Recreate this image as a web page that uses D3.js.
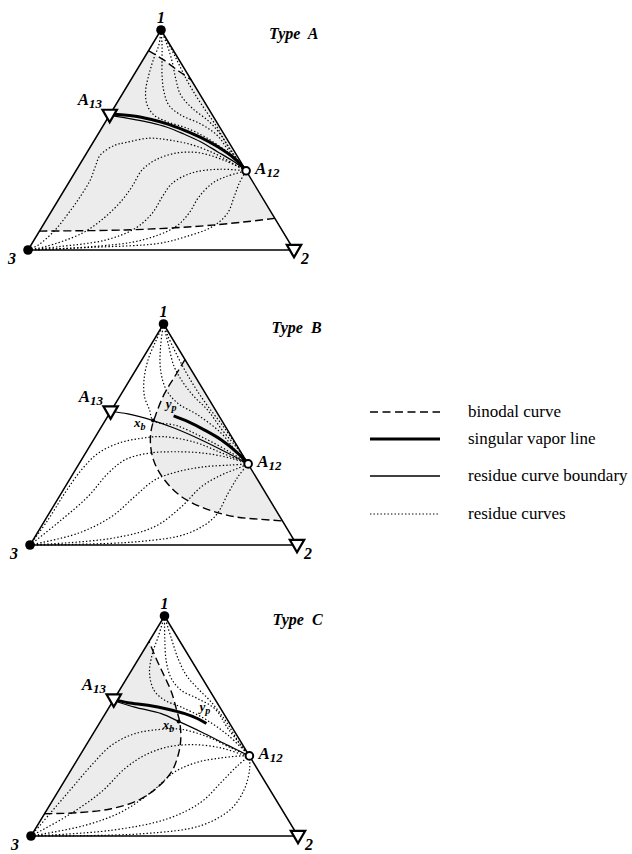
<!DOCTYPE html>
<html>
<head>
<meta charset="utf-8">
<script src="https://cdnjs.cloudflare.com/ajax/libs/d3/7.8.5/d3.min.js"></script>
<style>
  body { margin: 0; background: #fff; }
  svg { display: block; }
</style>
</head>
<body>
<svg width="632" height="854"></svg>
<script>
// points are [fraction along the 3-2 base, fraction of height towards 1]
var vertexLabels = ["1", "2", "3"];
var typeNames = ["A", "B", "C"];
var legendLabels = ["binodal curve", "singular vapor line", "residue curve boundary", "residue curves"];

// ---- Type A
var aA13 = [0.307, 0.614];
var aA12 = [0.82, 0.36];
var aBinodalTop = [[0.453,0.906],[0.51,0.864],[0.57,0.81],[0.614,0.773]];
var aBinodalBottom = [[0.043,0.086],[0.366,0.091],[0.618,0.106],[0.81,0.127],[0.928,0.144]];
var aVapor = [[0.309,0.618],[0.397,0.609],[0.46,0.594],[0.523,0.573],[0.586,0.545],[0.649,0.512],[0.712,0.47],[0.775,0.417],[0.82,0.36]];
var aBoundary = [[0.309,0.612],[0.397,0.594],[0.46,0.579],[0.523,0.558],[0.586,0.527],[0.649,0.492],[0.712,0.447],[0.775,0.401],[0.82,0.36]];
var aResidue = [
  [[0.5,1],[0.492,0.932],[0.473,0.871],[0.454,0.795],[0.442,0.72],[0.448,0.659],[0.473,0.614],[0.523,0.583],[0.599,0.553],[0.674,0.508],[0.748,0.447],[0.80,0.394],[0.82,0.36]],
  [[0.5,1],[0.504,0.932],[0.504,0.871],[0.504,0.795],[0.511,0.72],[0.529,0.659],[0.574,0.614],[0.649,0.573],[0.71,0.523],[0.757,0.447],[0.82,0.36]],
  [[0.5,1],[0.523,0.932],[0.542,0.856],[0.555,0.78],[0.574,0.705],[0.618,0.644],[0.68,0.585],[0.725,0.523],[0.764,0.447],[0.82,0.36]],
  [[0.5,1],[0.536,0.92],[0.567,0.845],[0.598,0.77],[0.632,0.7],[0.67,0.63],[0.71,0.56],[0.738,0.5],[0.771,0.44],[0.82,0.36]],
  [[0,0],[0.039,0.023],[0.102,0.091],[0.152,0.167],[0.196,0.242],[0.234,0.318],[0.253,0.379],[0.272,0.432],[0.328,0.477],[0.366,0.488],[0.454,0.508],[0.529,0.5],[0.617,0.478],[0.706,0.436],[0.778,0.388],[0.82,0.36]],
  [[0,0],[0.064,0.015],[0.203,0.076],[0.291,0.151],[0.354,0.227],[0.391,0.288],[0.429,0.364],[0.479,0.409],[0.555,0.44],[0.643,0.442],[0.743,0.405],[0.82,0.36]],
  [[0,0],[0.114,0.015],[0.291,0.045],[0.404,0.099],[0.467,0.167],[0.505,0.242],[0.542,0.303],[0.618,0.351],[0.718,0.367],[0.82,0.36]],
  [[0,0],[0.24,0.015],[0.429,0.045],[0.555,0.106],[0.605,0.167],[0.643,0.242],[0.693,0.303],[0.743,0.333],[0.82,0.36]],
  [[0,0],[0.24,0.012],[0.492,0.03],[0.592,0.06],[0.693,0.106],[0.75,0.167],[0.775,0.242],[0.794,0.303],[0.82,0.36]]
];

// ---- Type B
var bA13 = [0.302, 0.604];
var bA12 = [0.817, 0.367];
var bXb = [0.461, 0.563];
var bBinodal = [[0.581,0.84],[0.542,0.762],[0.504,0.686],[0.473,0.596],[0.454,0.52],[0.452,0.445],[0.467,0.37],[0.504,0.294],[0.567,0.219],[0.654,0.166],[0.767,0.128],[0.866,0.116],[0.946,0.109]];
var bBoundary = [[0.302,0.604],[0.367,0.593],[0.461,0.563],[0.542,0.528],[0.642,0.475],[0.742,0.415],[0.817,0.367]];
var bVapor = [[0.538,0.584],[0.592,0.558],[0.654,0.52],[0.717,0.475],[0.779,0.415],[0.817,0.367]];
var bResidue = [
  [[0.5,1],[0.473,0.928],[0.442,0.837],[0.427,0.747],[0.429,0.671],[0.448,0.611],[0.461,0.563],[0.55,0.54],[0.65,0.485],[0.75,0.42],[0.817,0.367]],
  [[0.5,1],[0.489,0.897],[0.489,0.792],[0.511,0.701],[0.554,0.641],[0.629,0.588],[0.717,0.505],[0.768,0.43],[0.817,0.367]],
  [[0.5,1],[0.517,0.913],[0.54,0.807],[0.575,0.732],[0.615,0.671],[0.665,0.611],[0.72,0.52],[0.776,0.438],[0.817,0.367]],
  [[0.5,1],[0.515,0.95],[0.55,0.86],[0.585,0.78],[0.625,0.7],[0.668,0.625],[0.728,0.53],[0.784,0.43],[0.817,0.367]],
  [[0,0],[0.067,0.113],[0.13,0.234],[0.192,0.339],[0.255,0.415],[0.33,0.46],[0.417,0.483],[0.5,0.49],[0.617,0.465],[0.717,0.417],[0.792,0.38],[0.817,0.367]],
  [[0,0],[0.117,0.113],[0.217,0.219],[0.292,0.324],[0.355,0.385],[0.442,0.415],[0.542,0.422],[0.654,0.415],[0.754,0.392],[0.817,0.367]],
  [[0,0],[0.18,0.053],[0.305,0.128],[0.392,0.219],[0.467,0.294],[0.554,0.332],[0.654,0.354],[0.754,0.362],[0.817,0.367]],
  [[0,0],[0.305,0.03],[0.467,0.083],[0.567,0.173],[0.642,0.264],[0.717,0.317],[0.779,0.347],[0.817,0.367]],
  [[0,0],[0.404,0.015],[0.592,0.053],[0.692,0.128],[0.742,0.234],[0.779,0.309],[0.817,0.367]]
];

// ---- Type C
var cA13 = [0.31, 0.62];
var cA12 = [0.818, 0.364];
var cXb = [0.553, 0.521];
var cBinodal = [[0.05,0.101],[0.176,0.106],[0.301,0.124],[0.401,0.162],[0.476,0.223],[0.526,0.291],[0.551,0.367],[0.561,0.442],[0.557,0.518],[0.544,0.579],[0.526,0.655],[0.501,0.723],[0.469,0.806],[0.442,0.885]];
var cBoundary = [[0.31,0.615],[0.388,0.586],[0.488,0.556],[0.553,0.521],[0.638,0.473],[0.738,0.412],[0.818,0.364]];
var cVapor = [[0.31,0.62],[0.363,0.606],[0.438,0.594],[0.513,0.576],[0.576,0.556],[0.625,0.533],[0.657,0.511]];
var cResidue = [
  [[0.5,1],[0.478,0.912],[0.453,0.821],[0.444,0.738],[0.461,0.662],[0.501,0.617],[0.563,0.586],[0.65,0.533],[0.738,0.458],[0.818,0.364]],
  [[0.5,1],[0.501,0.897],[0.507,0.791],[0.526,0.715],[0.563,0.662],[0.625,0.624],[0.688,0.579],[0.74,0.485],[0.818,0.364]],
  [[0.5,1],[0.526,0.897],[0.551,0.806],[0.582,0.73],[0.625,0.67],[0.675,0.609],[0.732,0.518],[0.778,0.427],[0.818,0.364]],
  [[0,0],[0.076,0.109],[0.151,0.215],[0.226,0.321],[0.301,0.412],[0.388,0.465],[0.488,0.485],[0.563,0.485],[0.663,0.45],[0.75,0.4],[0.818,0.364]],
  [[0,0],[0.139,0.094],[0.263,0.2],[0.351,0.306],[0.426,0.367],[0.513,0.405],[0.613,0.415],[0.713,0.4],[0.788,0.372],[0.818,0.364]],
  [[0,0],[0.201,0.048],[0.338,0.109],[0.451,0.2],[0.538,0.291],[0.625,0.336],[0.713,0.355],[0.788,0.364],[0.818,0.364]],
  [[0,0],[0.301,0.026],[0.513,0.079],[0.638,0.155],[0.713,0.245],[0.775,0.321],[0.818,0.364]],
  [[0,0],[0.426,0.011],[0.638,0.048],[0.75,0.124],[0.8,0.215],[0.819,0.306],[0.818,0.364]]
];

var corners = [[0.5, 1], [1, 0], [0, 0]]; // vertex 1, 2, 3

// where each triangle sits on the page
var boxes = [
  {x0: 28, x1: 294, yb: 250, yt: 30},
  {x0: 30, x1: 297, yb: 545, yt: 324},
  {x0: 31, x1: 298, yb: 836, yt: 616}
];

var panels = [
  {name: typeNames[0], box: boxes[0], shade: [aBinodalTop, aBinodalBottom.slice().reverse()],
   binodal: [aBinodalTop, aBinodalBottom], boundary: aBoundary, vapor: aVapor, residue: aResidue,
   a13: aA13, a12: aA12},
  {name: typeNames[1], box: boxes[1], shade: [bBinodal], binodal: [bBinodal], boundary: bBoundary,
   vapor: bVapor, residue: bResidue, a13: bA13, a12: bA12, xb: bXb,
   ypAt: bVapor[0], ypOff: [-8, -8], xbOff: [-19, 6]},
  {name: typeNames[2], box: boxes[2], shade: [cBinodal], binodal: [cBinodal], boundary: cBoundary,
   vapor: cVapor, residue: cResidue, a13: cA13, a12: cA12, xb: cXb,
   ypAt: cVapor[cVapor.length - 1], ypOff: [-7, -13], xbOff: [-16, 8]}
];

var svg = d3.select("svg");
var serif = "'Liberation Serif', 'Times New Roman', serif";

function label(g, x, y, main, sub, size, subSize) {
    var t = g.append("text")
        .attr("x", x)
        .attr("y", y)
        .attr("font-family", serif)
        .attr("font-weight", "bold")
        .attr("font-style", "italic")
        .attr("font-size", size)
        .attr("fill", "#000");
    t.append("tspan").text(main);
    if (sub) {
        t.append("tspan").attr("font-size", subSize).attr("dy", 3).text(sub);
    }
    return t;
}

function drawPanel(p) {
    var x = d3.scaleLinear().domain([0, 1]).range([p.box.x0, p.box.x1]);
    var y = d3.scaleLinear().domain([0, 1]).range([p.box.yb, p.box.yt]);
    var g = svg.append("g").attr("class", "panel");

    var curve = d3.line()
        .x(function(d) { return x(d[0]); })
        .y(function(d) { return y(d[1]); })
        .curve(d3.curveCatmullRom.alpha(0.5));

    // two-liquid region
    var shadePath = p.shade.map(function(part, i) {
        var s = curve(part);
        return i == 0 ? s : s.replace(/^M/, "L");
    }).join("") + "Z";
    g.append("path")
        .attr("d", shadePath)
        .attr("fill", "#ececec")
        .attr("stroke", "none");

    g.selectAll(".residue")
        .data(p.residue)
        .enter()
        .append("path")
        .attr("class", "residue")
        .attr("d", curve)
        .attr("fill", "none")
        .attr("stroke", "#000")
        .attr("stroke-width", 1.2)
        .attr("stroke-dasharray", "1.4,2.1");

    g.selectAll(".binodal")
        .data(p.binodal)
        .enter()
        .append("path")
        .attr("class", "binodal")
        .attr("d", curve)
        .attr("fill", "none")
        .attr("stroke", "#000")
        .attr("stroke-width", 1.4)
        .attr("stroke-dasharray", "8,4");

    g.append("path")
        .attr("d", curve(p.boundary))
        .attr("fill", "none")
        .attr("stroke", "#000")
        .attr("stroke-width", 1.2);

    g.append("path")
        .attr("d", curve(p.vapor))
        .attr("fill", "none")
        .attr("stroke", "#000")
        .attr("stroke-width", 3)
        .attr("stroke-linecap", "butt");

    // triangle frame
    g.append("path")
        .attr("d", d3.line().x(function(d) { return x(d[0]); }).y(function(d) { return y(d[1]); })
            .curve(d3.curveLinearClosed)(corners))
        .attr("fill", "none")
        .attr("stroke", "#000")
        .attr("stroke-width", 1.5);

    // pure components / azeotropes
    [corners[0], corners[2]].forEach(function(c) {
        g.append("circle").attr("cx", x(c[0])).attr("cy", y(c[1])).attr("r", 4.8).attr("fill", "#000");
    });
    var tri = d3.symbol().type(d3.symbolTriangle).size(90);
    [corners[1], p.a13].forEach(function(c) {
        g.append("path")
            .attr("d", tri())
            .attr("transform", "translate(" + x(c[0]) + "," + (y(c[1]) - 1) + ") rotate(180)")
            .attr("fill", "#fff")
            .attr("stroke", "#000")
            .attr("stroke-width", 2.2);
    });
    g.append("circle")
        .attr("cx", x(p.a12[0])).attr("cy", y(p.a12[1])).attr("r", 3.8)
        .attr("fill", "#fff").attr("stroke", "#000").attr("stroke-width", 2);

    if (p.xb) {
        g.append("circle").attr("cx", x(p.xb[0])).attr("cy", y(p.xb[1])).attr("r", 2).attr("fill", "#000");
        label(g, x(p.xb[0]) + p.xbOff[0], y(p.xb[1]) + p.xbOff[1], "x", "b", 13, 10);
        label(g, x(p.ypAt[0]) + p.ypOff[0], y(p.ypAt[1]) + p.ypOff[1], "y", "p", 13, 10);
    }

    // labels
    label(g, x(corners[0][0]), y(corners[0][1]) - 7, vertexLabels[0], null, 16).attr("text-anchor", "middle");
    label(g, x(corners[1][0]) + 11, y(corners[1][1]) + 14, vertexLabels[1], null, 16).attr("text-anchor", "middle");
    label(g, x(corners[2][0]) - 16, y(corners[2][1]) + 14, vertexLabels[2], null, 16).attr("text-anchor", "middle");
    label(g, x(p.a13[0]) - 32, y(p.a13[1]) - 10, "A", "13", 17, 13);
    label(g, x(p.a12[0]) + 9, y(p.a12[1]) + 3, "A", "12", 17, 13);
    label(g, x(corners[0][0]) + 108, y(corners[0][1]) + 9, "Type\u00a0 " + p.name, null, 16);
}

panels.forEach(drawPanel);

// legend
var legendY = [412, 439, 476, 514];
var legendStyle = [
    {w: 1.4, dash: "8,4.5"},
    {w: 3, dash: null},
    {w: 1.4, dash: null},
    {w: 1.2, dash: "1.4,2.1"}
];
var legend = svg.append("g").attr("class", "legend");
legendLabels.forEach(function(name, i) {
    legend.append("line")
        .attr("x1", 370).attr("x2", 440)
        .attr("y1", legendY[i]).attr("y2", legendY[i])
        .attr("stroke", "#000")
        .attr("stroke-width", legendStyle[i].w)
        .attr("stroke-dasharray", legendStyle[i].dash);
    legend.append("text")
        .attr("x", 468)
        .attr("y", legendY[i] + 5)
        .attr("font-family", serif)
        .attr("font-size", 17)
        .text(name);
});
</script>
</body>
</html>
